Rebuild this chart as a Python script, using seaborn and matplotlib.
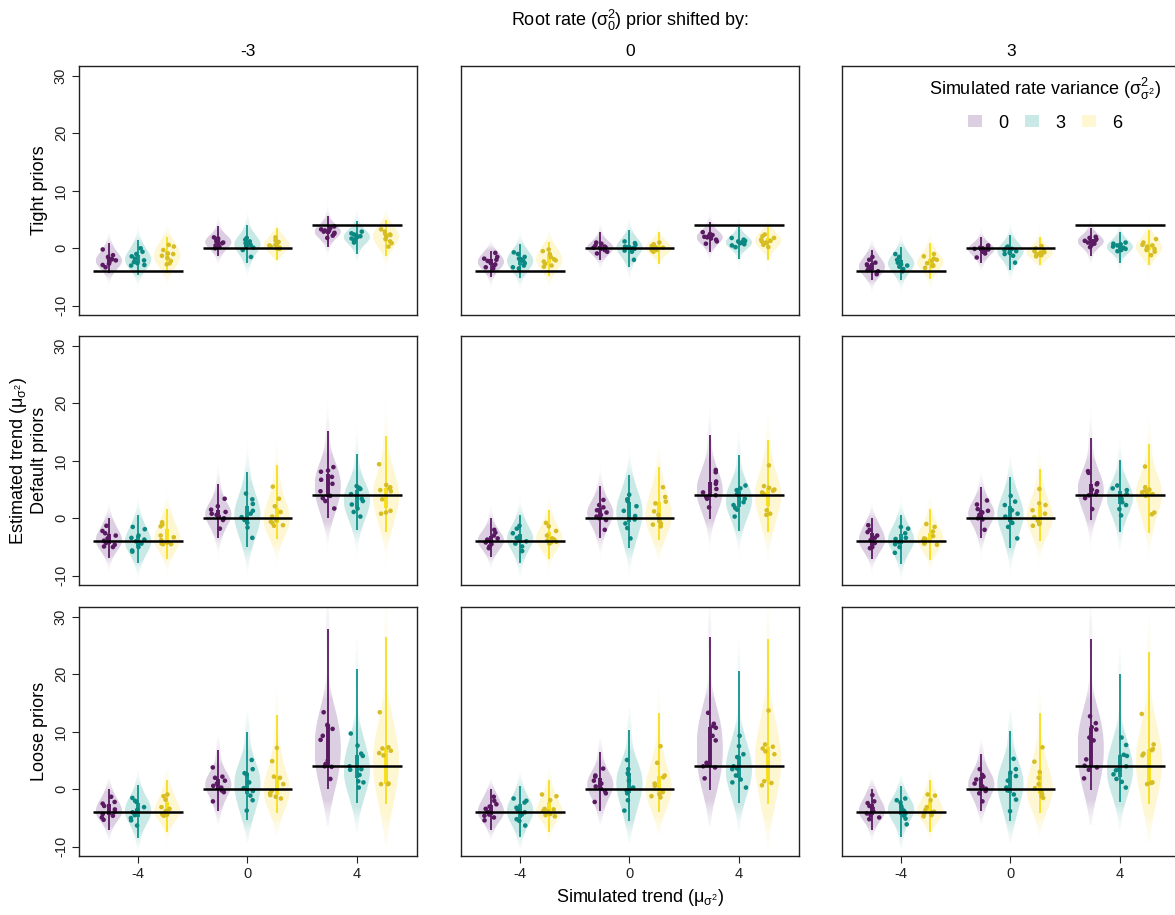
import numpy as np
import pandas as pd
import matplotlib
matplotlib.use("Agg")
import matplotlib.pyplot as plt
import seaborn as sns
from matplotlib.patches import Patch

# ---------------- data ----------------
PRIOR_LABELS = ["Tight priors", "Default priors", "Loose priors"]
SHIFTS = [-3, 0, 3]
TRENDS = [-4, 0, 4]
VARIANCES = ["0", "3", "6"]

# point estimates: [trend -4, 0, 4] x [variance 0, 3, 6]
tight_m3 = [
    [[-0.2, -1.2, -1.5, -1.9, -2.1, -2.4, -2.7, -2.9, -3.3, -1.8],
     [0.0, -0.6, -1.0, -1.4, -1.8, -2.1, -2.4, -2.6, -2.9, -3.0],
     [0.6, 0.3, -0.3, -0.9, -1.0, -1.3, -1.7, -2.2, -2.6, -2.8]],
    [[1.9, 1.7, 1.6, 1.4, 1.2, 1.0, 0.9, 0.5, 0.3, 0.0],
     [1.8, 1.5, 1.2, 0.9, 0.8, 0.6, 0.4, 0.1, -0.3, -1.5],
     [1.9, 1.4, 1.1, 0.8, 0.6, 0.5, 0.3, 0.1, 0.0, -0.1]],
    [[3.8, 3.5, 3.3, 3.1, 3.0, 2.9, 2.7, 2.5, 2.2, 1.8],
     [2.9, 2.6, 2.4, 2.3, 2.1, 1.9, 1.7, 1.5, 1.2, 1.0],
     [3.3, 2.9, 2.5, 2.4, 2.3, 2.0, 1.6, 1.2, 0.9, 0.3]],
]
tight_0 = [
    [[-0.8, -1.5, -1.8, -2.0, -2.2, -2.5, -2.8, -3.0, -3.3, -3.5],
     [-0.7, -1.0, -1.5, -1.8, -2.0, -2.2, -2.6, -3.0, -3.3, -3.5],
     [-0.2, -0.5, -1.0, -1.5, -1.9, -2.1, -2.3, -2.7, -3.0, -3.2]],
    [[1.0, 0.8, 0.5, 0.3, 0.2, 0.1, -0.1, -0.3, -0.6, -0.9],
     [1.2, 0.9, 0.6, 0.3, 0.1, 0.0, -0.1, -0.4, -0.6, -2.0],
     [1.0, 0.7, 0.4, 0.2, 0.1, 0.0, -0.2, -0.3, -0.4, -0.6]],
    [[2.8, 2.5, 2.3, 2.1, 2.0, 1.9, 1.7, 1.5, 1.2, 0.8],
     [1.8, 1.5, 1.3, 1.2, 1.1, 1.0, 0.9, 0.7, 0.5, 0.2],
     [2.4, 2.1, 1.8, 1.5, 1.3, 1.2, 1.0, 0.9, 0.6, 0.2]],
]
tight_p3 = [
    [[-1.5, -2.0, -2.5, -2.8, -3.0, -3.3, -3.6, -3.8, -4.0, -4.5],
     [-1.0, -1.5, -2.0, -2.3, -2.5, -2.8, -3.0, -3.2, -3.6, -4.0],
     [-1.0, -1.4, -1.8, -2.0, -2.2, -2.6, -2.9, -3.0, -3.1, -3.4]],
    [[0.5, 0.3, 0.1, 0.0, -0.1, -0.2, -0.3, -0.6, -0.9, -1.6],
     [0.3, 0.1, -0.1, -0.3, -0.5, -0.6, -0.8, -1.0, -1.3, -2.5],
     [0.4, 0.0, -0.4, -0.5, -0.7, -0.8, -1.0, -1.1, -1.2, -1.4]],
    [[2.0, 1.8, 1.6, 1.4, 1.3, 1.2, 1.0, 0.8, 0.5, 0.2],
     [1.0, 0.8, 0.7, 0.5, 0.3, 0.1, 0.0, -0.1, -0.3, -0.5],
     [1.6, 1.0, 0.6, 0.5, 0.3, 0.0, -0.1, -0.3, -0.6, -1.2]],
]
default_m3 = [
    [[-1.3, -2.2, -2.6, -3.0, -3.5, -3.9, -4.3, -4.6, -4.9, -5.0],
     [-1.5, -1.9, -3.0, -3.4, -3.7, -4.0, -4.4, -5.0, -5.6, -5.8],
     [-0.7, -1.1, -1.4, -3.0, -3.3, -3.8, -4.2, -4.4, -4.5, -4.5]],
    [[3.4, 2.1, 1.5, 1.1, 0.8, 0.6, 0.3, 0.0, -0.3, -1.8],
     [4.3, 3.3, 2.5, 1.3, 0.8, 0.2, -0.3, -0.8, -1.6, -3.4],
     [5.5, 3.4, 2.1, 1.1, 0.3, -0.3, -0.6, -0.8, -1.2, -1.3]],
    [[8.9, 8.3, 8.1, 7.2, 6.7, 6.0, 4.7, 3.9, 3.5, 3.0, 1.7],
     [5.6, 5.3, 5.1, 4.2, 3.4, 3.0, 2.4, 1.7, 1.1, 0.3],
     [9.4, 5.8, 5.4, 5.2, 4.9, 4.7, 3.3, 1.3, 1.0, 0.8]],
]
default_0 = [
    [[-2.0, -2.5, -3.0, -3.5, -3.7, -3.9, -4.2, -4.5, -4.9, -5.2],
     [-1.3, -1.8, -2.6, -3.2, -3.4, -3.6, -4.0, -4.4, -4.9, -5.7],
     [-0.8, -1.4, -2.2, -3.0, -3.5, -3.7, -3.9, -4.1, -4.2, -4.4]],
    [[3.2, 2.3, 1.9, 1.4, 1.0, 0.6, 0.3, 0.0, -0.3, -2.0],
     [4.1, 3.3, 3.0, 2.1, 1.3, 0.4, -0.2, -0.9, -1.7, -3.5],
     [5.4, 3.7, 2.9, 2.6, 1.2, 0.6, -0.4, -0.9, -1.1, -1.4]],
    [[8.4, 8.0, 6.4, 6.0, 5.1, 4.5, 4.0, 3.7, 3.4, 1.9],
     [5.7, 5.2, 4.9, 4.2, 3.4, 2.8, 2.3, 1.8, 1.5, 0.3],
     [9.2, 5.6, 5.3, 5.0, 4.8, 4.5, 4.2, 1.4, 0.8, 0.6]],
]
default_p3 = [
    [[-1.2, -2.0, -2.4, -3.0, -3.4, -3.8, -4.3, -4.6, -5.0, -5.2],
     [-1.5, -1.8, -2.6, -3.4, -3.6, -4.0, -4.2, -4.5, -5.0, -6.0],
     [-1.0, -1.5, -2.3, -3.1, -3.5, -3.6, -3.9, -4.3, -4.4, -4.6]],
    [[3.1, 2.4, 1.6, 1.3, 1.0, 0.6, 0.3, 0.0, -0.2, -2.0],
     [3.9, 2.9, 2.3, 1.4, 0.8, 0.3, -0.3, -0.8, -1.5, -3.5],
     [5.1, 2.6, 2.3, 1.4, 0.8, 0.2, -0.4, -0.9, -1.0, -1.3]],
    [[8.2, 7.9, 6.1, 5.9, 5.0, 4.7, 4.2, 4.0, 3.5, 1.6],
     [5.7, 5.2, 4.9, 4.2, 3.8, 3.4, 2.8, 2.3, 1.6, 0.5],
     [9.0, 5.4, 5.0, 4.8, 4.5, 4.3, 4.2, 3.9, 1.0, 0.7]],
]
loose_m3 = [
    [[-1.3, -2.2, -2.5, -2.9, -3.5, -3.9, -4.3, -4.6, -4.9, -5.3],
     [-1.5, -2.0, -2.2, -3.1, -3.6, -4.0, -4.5, -5.0, -5.4, -6.3],
     [-0.9, -1.2, -1.8, -3.1, -3.4, -3.8, -4.3, -4.4, -4.5, -4.6]],
    [[3.8, 2.2, 2.0, 1.5, 1.0, 0.6, 0.3, -0.2, -0.5, -2.1],
     [5.1, 3.5, 2.8, 2.6, 1.2, 0.2, -0.3, -1.1, -1.9, -3.7],
     [7.2, 4.9, 2.2, 2.0, 0.9, -0.3, -0.7, -1.0, -1.3, -1.6]],
    [[13.4, 11.2, 11.0, 10.5, 9.3, 8.6, 5.0, 4.4, 4.0, 3.9, 1.8],
     [9.7, 7.6, 6.2, 5.8, 4.0, 3.5, 3.4, 2.5, 1.4, 1.2, 0.3],
     [13.4, 7.3, 7.1, 6.7, 6.3, 5.9, 1.0, 0.9, 0.9]],
]
loose_0 = [
    [[-1.3, -2.0, -2.6, -3.0, -3.4, -3.9, -4.4, -4.6, -4.9, -5.4],
     [-1.6, -2.0, -2.3, -3.2, -3.6, -4.0, -4.4, -5.2, -5.5, -6.3],
     [-0.9, -1.2, -1.9, -3.4, -3.5, -3.8, -3.9, -4.3, -4.5, -4.7]],
    [[3.6, 2.4, 2.2, 1.5, 1.0, 0.5, 0.1, -0.3, -0.7, -2.2],
     [5.1, 3.5, 2.8, 2.6, 1.5, 0.3, -0.2, -0.7, -1.9, -3.7],
     [7.5, 4.6, 2.4, 2.1, 1.0, 0.6, -0.5, -0.9, -1.2, -1.4]],
    [[13.3, 11.4, 11.0, 10.7, 9.3, 8.5, 4.6, 4.2, 4.0, 3.8, 1.9],
     [9.3, 7.5, 6.1, 5.6, 4.0, 3.6, 3.5, 2.4, 1.7, 1.2, 0.3],
     [13.7, 7.8, 7.4, 7.1, 6.6, 6.1, 1.4, 1.1, 0.7]],
]
loose_p3 = [
    [[-1.0, -2.1, -2.4, -2.9, -3.3, -3.8, -4.2, -4.5, -4.9, -5.2],
     [-1.6, -1.9, -2.3, -3.0, -3.5, -3.8, -4.2, -4.6, -5.1, -6.1],
     [-0.9, -1.1, -1.9, -3.1, -3.6, -3.9, -4.0, -4.3, -4.5, -4.7]],
    [[3.5, 2.5, 2.2, 1.7, 1.0, 0.5, 0.1, -0.3, -0.7, -2.1],
     [5.3, 3.5, 2.9, 2.3, 1.5, 0.3, -0.2, -0.9, -1.8, -3.8],
     [7.3, 4.8, 3.0, 2.0, 0.9, 0.2, -0.5, -0.9, -1.2, -1.5]],
    [[12.7, 11.5, 10.8, 10.4, 9.0, 8.5, 5.2, 4.1, 3.8, 3.4, 1.9],
     [9.0, 7.7, 6.0, 5.8, 4.0, 3.5, 3.3, 2.6, 1.8, 1.3, 0.3],
     [13.1, 7.8, 7.0, 6.8, 6.2, 5.9, 1.2, 1.1, 0.9]],
]

# posterior interval ends (low, high): [trend] x [variance]
tight_m3_ci = [[(-4.3, 0.9), (-4.6, 1.4), (-4.3, 2.0)],
               [(-1.4, 3.8), (-2.6, 4.1), (-2.0, 3.5)],
               [(0.3, 5.6), (-1.0, 4.8), (-1.4, 4.9)]]
tight_0_ci = [[(-5.0, -0.5), (-5.1, 0.7), (-4.9, 1.1)],
              [(-2.1, 2.8), (-3.2, 3.1), (-2.7, 2.8)],
              [(-0.6, 4.6), (-1.8, 3.7), (-2.1, 3.7)]]
tight_p3_ci = [[(-5.5, -0.3), (-5.5, 0.3), (-5.3, 0.9)],
               [(-2.6, 2.0), (-3.8, 2.3), (-2.9, 2.0)],
               [(-1.4, 3.5), (-2.6, 2.9), (-2.9, 3.2)]]
default_m3_ci = [[(-6.9, 0.1), (-7.8, 0.5), (-7.1, 1.7)],
                 [(-3.4, 6.0), (-5.0, 8.1), (-3.6, 9.2)],
                 [(0.0, 15.2), (-2.1, 11.2), (-2.4, 14.3)]]
default_0_ci = [[(-6.8, 0.0), (-7.8, 0.6), (-7.1, 1.4)],
                [(-3.5, 5.7), (-5.2, 7.5), (-3.8, 9.0)],
                [(-0.2, 14.4), (-2.2, 11.0), (-2.4, 13.6)]]
default_p3_ci = [[(-7.0, 0.0), (-8.0, 0.5), (-7.2, 1.7)],
                 [(-3.5, 5.4), (-5.2, 7.2), (-3.9, 8.5)],
                 [(-0.3, 14.0), (-2.3, 10.1), (-2.6, 13.0)]]
loose_m3_ci = [[(-7.1, 0.1), (-8.4, 0.8), (-7.4, 1.7)],
               [(-3.7, 6.8), (-5.4, 10.0), (-4.1, 12.9)],
               [(0.0, 27.8), (-2.4, 20.9), (-2.6, 26.5)]]
loose_0_ci = [[(-7.0, 0.0), (-8.3, 0.6), (-7.4, 1.7)],
              [(-3.8, 6.5), (-5.5, 10.3), (-3.9, 13.3)],
              [(-0.2, 26.5), (-2.3, 20.5), (-2.6, 26.2)]]
loose_p3_ci = [[(-7.0, 0.1), (-8.3, 0.5), (-7.4, 1.6)],
               [(-3.7, 6.2), (-5.6, 10.1), (-4.1, 13.2)],
               [(-0.2, 26.2), (-2.2, 20.0), (-2.6, 23.9)]]

PANELS = {
    ("Tight priors", -3): (tight_m3, tight_m3_ci),
    ("Tight priors", 0): (tight_0, tight_0_ci),
    ("Tight priors", 3): (tight_p3, tight_p3_ci),
    ("Default priors", -3): (default_m3, default_m3_ci),
    ("Default priors", 0): (default_0, default_0_ci),
    ("Default priors", 3): (default_p3, default_p3_ci),
    ("Loose priors", -3): (loose_m3, loose_m3_ci),
    ("Loose priors", 0): (loose_0, loose_0_ci),
    ("Loose priors", 3): (loose_p3, loose_p3_ci),
}

FILL = {"0": "#dccfe2", "3": "#c9e9e6", "6": "#fef7d2"}
POINT_COL = {"0": "#5a1a62", "3": "#0b8882", "6": "#d6bd24"}
LINE_COL = {"0": "#5a1a62", "3": "#12928c", "6": "#f6de1c"}

# long-form tables
pt_rows, vio_rows = [], []
for (prior, shift), (pts, ci) in PANELS.items():
    for ti, t in enumerate(TRENDS):
        for vi, v in enumerate(VARIANCES):
            for val in pts[ti][vi]:
                pt_rows.append((prior, shift, t, v, val))
                vio_rows.append((prior, shift, t, v, val))
            for val in ci[ti][vi]:
                vio_rows.append((prior, shift, t, v, val))
cols = ["prior", "shift", "trend", "variance", "value"]
pts_df = pd.DataFrame(pt_rows, columns=cols)
vio_df = pd.DataFrame(vio_rows, columns=cols)

# ---------------- style ----------------
sns.set_style("ticks")
plt.rcParams["font.family"] = ["Liberation Sans", "DejaVu Sans"]
plt.rcParams["mathtext.fontset"] = "custom"
plt.rcParams["mathtext.rm"] = "Liberation Sans"
plt.rcParams["mathtext.it"] = "Liberation Sans:italic"
plt.rcParams["text.color"] = "black"

W, H = 1175, 915
fig = plt.figure(figsize=(W / 100, H / 100), dpi=100)
col_left = [79, 461, 842]
row_top = [66, 336, 607]
aw, ah = 338, 249
DW = 0.8 / 3
KDE_CUT = [3.0, 2.2, 1.5]
KDE_BW = [1.35, 1.2, 1.0]
np.random.seed(7)


def fade(ax, colls):
    for coll in colls:
        paths = coll.get_paths()
        if not paths:
            continue
        path = paths[0]
        v = path.vertices
        x, y = v[:, 0], v[:, 1]
        if len(x) < 4:
            continue
        cx = (x.max() + x.min()) / 2
        w = np.abs(x - cx)
        right = x >= cx
        yr, wr = y[right], w[right]
        o = np.argsort(yr)
        ys = np.linspace(y.min(), y.max(), 600)
        wy = np.interp(ys, yr[o], wr[o])
        alpha = np.clip(wy / wy.max() * 2.6, 0, 1) ** 1.1
        fc = coll.get_facecolor()[0]
        img = np.zeros((len(ys), 2, 4))
        img[..., :3] = fc[:3]
        img[..., 3] = alpha[:, None]
        im = ax.imshow(img, extent=[cx - w.max(), cx + w.max(), y.min(), y.max()],
                       origin="lower", aspect="auto", interpolation="bilinear", zorder=1)
        im.set_clip_path(path, ax.transData)
        coll.set_visible(False)


for r, prior in enumerate(PRIOR_LABELS):
    for c, shift in enumerate(SHIFTS):
        ax = fig.add_axes([col_left[c] / W, 1 - (row_top[r] + ah) / H, aw / W, ah / H])
        sv = vio_df[(vio_df.prior == prior) & (vio_df["shift"] == shift)]
        sp = pts_df[(pts_df.prior == prior) & (pts_df["shift"] == shift)]
        n0 = len(ax.collections)
        sns.violinplot(data=sv, x="trend", y="value", hue="variance", order=TRENDS,
                       hue_order=VARIANCES, palette=FILL, inner=None, density_norm="width",
                       width=0.8, gap=0.1, cut=KDE_CUT[r], bw_adjust=KDE_BW[r], linewidth=0,
                       saturation=1, legend=False, ax=ax)
        fade(ax, ax.collections[n0:])
        pts, ci = PANELS[(prior, shift)]
        for ti, t in enumerate(TRENDS):
            for vi, v in enumerate(VARIANCES):
                xp = ti + (vi - 1) * DW
                lo, hi = ci[ti][vi]
                ax.vlines(xp, lo, hi, color=LINE_COL[v], lw=1.3, zorder=2)
                q1, q3 = np.percentile(pts[ti][vi], [25, 75])
                ax.vlines(xp, q1, q3, color=LINE_COL[v], lw=2.8, zorder=2)
            ax.hlines(t, ti - 0.41, ti + 0.41, color="black", lw=1.8, zorder=5)
        sns.stripplot(data=sp, x="trend", y="value", hue="variance", order=TRENDS,
                      hue_order=VARIANCES, palette=POINT_COL, dodge=True, jitter=0.2,
                      size=3.3, linewidth=0, legend=False, ax=ax, zorder=4)
        ax.set_xlim(-0.54, 2.55)
        ax.set_ylim(-11.6, 31.7)
        ax.set_xlabel("")
        ax.set_ylabel("")
        for s in ax.spines.values():
            s.set_visible(True)
            s.set_color("#222222")
            s.set_linewidth(1.0)
        ax.tick_params(direction="out", length=5, width=0.8, labelsize=10.5, pad=3,
                       colors="#222222")
        if c == 0:
            ax.set_yticks([-10, 0, 10, 20, 30])
            ax.set_yticklabels(["-10", "0", "10", "20", "30"], rotation=90, va="center")
        else:
            ax.set_yticks([])
        if r == 2:
            ax.set_xticks([0, 1, 2])
            ax.set_xticklabels([str(t) for t in TRENDS])
        else:
            ax.set_xticks([])

# ---------------- texts ----------------
fig.text(630 / W, 1 - 20 / H, r"Root rate ($\mathregular{σ_0^2}$) prior shifted by:",
         ha="center", va="center", fontsize=13)
for c, shift in enumerate(SHIFTS):
    fig.text((col_left[c] + aw / 2) / W, 1 - 52 / H, str(shift), ha="center", va="center",
             fontsize=12.5)
for r, prior in enumerate(PRIOR_LABELS):
    fig.text(40 / W, 1 - (row_top[r] + ah / 2) / H, prior, rotation=90, ha="center",
             va="center", fontsize=13)
fig.text(19 / W, 1 - (row_top[1] + ah / 2) / H, r"Estimated trend ($\mathregular{μ_{σ^2}}$)",
         rotation=90, ha="center", va="center", fontsize=13)
fig.text(640 / W, 1 - 898 / H, r"Simulated trend ($\mathregular{μ_{σ^2}}$)",
         ha="center", va="center", fontsize=13)

fig.text(1045 / W, 1 - 89 / H, r"Simulated rate variance ($\mathregular{σ^2_{σ^2}}$)",
         ha="center", va="center", fontsize=13)
handles = [Patch(facecolor=FILL[v], edgecolor="none") for v in VARIANCES]
fig.legend(handles, VARIANCES, ncol=3, frameon=False, loc="center",
           bbox_to_anchor=(1045 / W, 1 - 123 / H), fontsize=13, handlelength=0.8,
           handleheight=0.6, handletextpad=0.9, columnspacing=0.9, borderaxespad=0)

fig.savefig("out.png", dpi=100)
